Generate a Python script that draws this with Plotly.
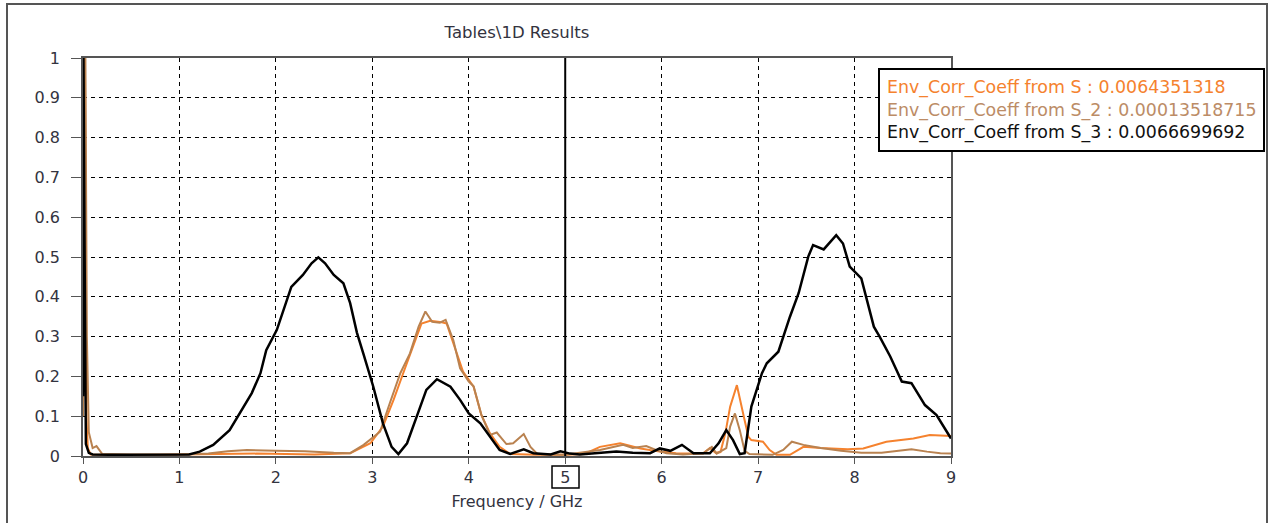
import plotly.graph_objects as go

# ---------------- data ----------------
freq_s3 = [0, 0.005, 0.015, 0.03, 0.06, 0.1, 0.3, 0.6, 0.9, 1.1,
           1.21, 1.35, 1.52, 1.63, 1.75, 1.84, 1.90, 2.01, 2.11, 2.16,
           2.28, 2.37, 2.44, 2.51, 2.60, 2.70, 2.77, 2.84, 2.91, 3.01,
           3.11, 3.20, 3.27, 3.36, 3.46, 3.56, 3.67, 3.81, 3.91, 4.00,
           4.12, 4.22, 4.32, 4.43, 4.57, 4.67, 4.85, 4.95, 5.05, 5.15,
           5.36, 5.53, 5.70, 5.88, 5.98, 6.09, 6.21, 6.33, 6.50, 6.59,
           6.67, 6.74, 6.81, 6.86, 6.93, 7.04, 7.09, 7.21, 7.33, 7.42,
           7.52, 7.57, 7.68, 7.81, 7.88, 7.95, 8.07, 8.20, 8.26, 8.37,
           8.49, 8.59, 8.73, 8.85, 9.0]
ecc_s3 = [0.15, 1.0, 0.57, 0.03, 0.008, 0.004, 0.003, 0.003, 0.003, 0.004,
          0.011, 0.028, 0.065, 0.108, 0.158, 0.208, 0.266, 0.317, 0.392, 0.425,
          0.455, 0.484, 0.499, 0.484, 0.455, 0.434, 0.384, 0.31, 0.255, 0.174,
          0.082, 0.023, 0.005, 0.032, 0.099, 0.166, 0.193, 0.174, 0.141, 0.107,
          0.082, 0.048, 0.015, 0.005, 0.017, 0.007, 0.004, 0.012, 0.006, 0.004,
          0.008, 0.011, 0.008, 0.007, 0.019, 0.013, 0.028, 0.007, 0.007, 0.032,
          0.065, 0.04, 0.005, 0.007, 0.124, 0.208, 0.233, 0.262, 0.35, 0.409,
          0.501, 0.53, 0.519, 0.555, 0.534, 0.476, 0.446, 0.325, 0.30, 0.25,
          0.187, 0.183, 0.128, 0.103, 0.044]

freq_s = [0, 0.02, 0.035, 0.05, 0.08, 0.3, 0.8, 1.2, 1.5, 1.8,
          2.1, 2.4, 2.77, 2.98, 3.11, 3.22, 3.32, 3.43, 3.51, 3.60,
          3.70, 3.77, 3.86, 3.94, 4.05, 4.13, 4.22, 4.32, 4.43, 4.7,
          5.0, 5.2, 5.36, 5.57, 5.78, 5.98, 6.15, 6.43, 6.50, 6.56,
          6.61, 6.66, 6.71, 6.78, 6.86, 6.90, 6.93, 7.05, 7.12, 7.19,
          7.33, 7.47, 7.65, 7.93, 8.09, 8.33, 8.61, 8.78, 9.0]
ecc_s = [0.2, 1.0, 0.1, 0.02, 0.004, 0.003, 0.003, 0.004, 0.006, 0.006,
         0.005, 0.004, 0.007, 0.032, 0.074, 0.141, 0.208, 0.283, 0.333, 0.34,
         0.337, 0.333, 0.266, 0.212, 0.174, 0.103, 0.057, 0.023, 0.005, 0.003,
         0.003, 0.005, 0.023, 0.032, 0.019, 0.011, 0.007, 0.006, 0.02, 0.008,
         0.01, 0.057, 0.124, 0.178, 0.09, 0.048, 0.04, 0.036, 0.015, 0.003,
         0.003, 0.023, 0.02, 0.017, 0.019, 0.036, 0.044, 0.053, 0.05]

freq_s2 = [0, 0.025, 0.04, 0.06, 0.1, 0.14, 0.2, 0.5, 1.0, 1.3,
           1.5, 1.7, 2.0, 2.3, 2.6, 2.77, 2.91, 3.08, 3.18, 3.29,
           3.39, 3.48, 3.55, 3.62, 3.70, 3.76, 3.84, 3.91, 4.00, 4.05,
           4.13, 4.22, 4.29, 4.39, 4.46, 4.57, 4.64, 4.71, 5.0, 5.36,
           5.60, 5.70, 5.84, 5.94, 6.05, 6.22, 6.43, 6.52, 6.57, 6.67,
           6.71, 6.76, 6.81, 6.86, 6.91, 7.15, 7.26, 7.35, 7.47, 7.65,
           7.86, 8.07, 8.28, 8.44, 8.59, 8.75, 8.89, 9.0]
ecc_s2 = [0.1, 1.0, 0.3, 0.06, 0.02, 0.025, 0.005, 0.003, 0.004, 0.006,
          0.012, 0.015, 0.013, 0.012, 0.008, 0.007, 0.028, 0.061, 0.132, 0.208,
          0.258, 0.325, 0.363, 0.337, 0.335, 0.342, 0.291, 0.22, 0.187, 0.175,
          0.104, 0.053, 0.059, 0.03, 0.032, 0.055, 0.023, 0.005, 0.003, 0.015,
          0.028, 0.02, 0.025, 0.015, 0.007, 0.004, 0.007, 0.023, 0.006, 0.02,
          0.074, 0.107, 0.065, 0.013, 0.005, 0.003, 0.015, 0.036, 0.028, 0.02,
          0.013, 0.008, 0.008, 0.013, 0.017, 0.011, 0.007, 0.006]

legend_labels = ["Env_Corr_Coeff from S : 0.0064351318",
                 "Env_Corr_Coeff from S_2 : 0.00013518715",
                 "Env_Corr_Coeff from S_3 : 0.0066699692"]
marker_freq = 5

assert len(freq_s3) == len(ecc_s3)
assert len(freq_s) == len(ecc_s)
assert len(freq_s2) == len(ecc_s2)

C_S = "#F5822E"
C_S2 = "#B98250"
C_S3 = "#000000"
FONT = "DejaVu Sans"
TXT = "#333340"

fig = go.Figure()
fig.add_trace(go.Scatter(x=freq_s, y=ecc_s, mode="lines", name=legend_labels[0],
                         line=dict(color=C_S, width=2)))
fig.add_trace(go.Scatter(x=freq_s2, y=ecc_s2, mode="lines", name=legend_labels[1],
                         line=dict(color=C_S2, width=2)))
fig.add_trace(go.Scatter(x=freq_s3, y=ecc_s3, mode="lines", name=legend_labels[2],
                         line=dict(color=C_S3, width=2.5)))

W, H = 1268, 523
L, R, T, B = 83, 317, 58, 67
pw, ph = W - L - R, H - T - B

def px_x(px):
    return (px - L) / pw

def px_y(py):
    return (H - B - py) / ph

# marker line
fig.add_shape(type="line", xref="x", yref="paper", x0=marker_freq, x1=marker_freq,
              y0=0, y1=1, line=dict(color="black", width=2), layer="above")
# box around marker tick label
fig.add_shape(type="rect", xref="x", yref="paper", x0=marker_freq - 0.137, x1=marker_freq + 0.143,
              y0=px_y(488), y1=px_y(466), line=dict(color="black", width=1.5))
# outer frame
fig.add_shape(type="rect", xref="paper", yref="paper", x0=px_x(7), x1=px_x(1267),
              y0=px_y(540), y1=px_y(4), line=dict(color="#555555", width=2))

legend_text = "<br>".join(
    f'<span style="color:{c}">{t}</span>' for t, c in zip(legend_labels, [C_S, "#BC8C66", "#111111"]))
fig.add_annotation(xref="paper", yref="paper", x=px_x(878), y=px_y(68),
                   xanchor="left", yanchor="top", text=legend_text, showarrow=False,
                   align="left", bgcolor="white", bordercolor="black", borderwidth=2,
                   borderpad=7, font=dict(family=FONT, size=17.4))

fig.update_layout(
    width=W, height=H,
    margin=dict(l=L, r=R, t=T, b=B),
    paper_bgcolor="white", plot_bgcolor="white",
    showlegend=False,
    title=dict(text="Tables\\1D Results", x=0.5, xref="paper", xanchor="center",
               y=1 - 32 / H, yanchor="middle", font=dict(family=FONT, size=16.5, color=TXT)),
    font=dict(family=FONT, size=16, color=TXT),
)
fig.update_xaxes(range=[0, 9], dtick=1, tick0=0, showgrid=True, gridcolor="black",
                 griddash="4px,4px", gridwidth=1, zeroline=False,
                 showline=True, linecolor="#555555", linewidth=1.5, mirror=True,
                 ticks="outside", ticklen=6, tickcolor="#555555",
                 tickfont=dict(family=FONT, size=16, color=TXT),
                 title=dict(text="Frequency / GHz", standoff=10,
                            font=dict(family=FONT, size=16, color=TXT)))
fig.update_yaxes(range=[0, 1], dtick=0.1, tick0=0, showgrid=True, gridcolor="black",
                 griddash="4px,4px", gridwidth=1, zeroline=False,
                 showline=True, linecolor="#555555", linewidth=1.5, mirror=True,
                 ticks="outside", ticklen=10, tickcolor="#555555", ticklabelstandoff=8,
                 tickfont=dict(family=FONT, size=16, color=TXT))

fig.write_html("out.html")
